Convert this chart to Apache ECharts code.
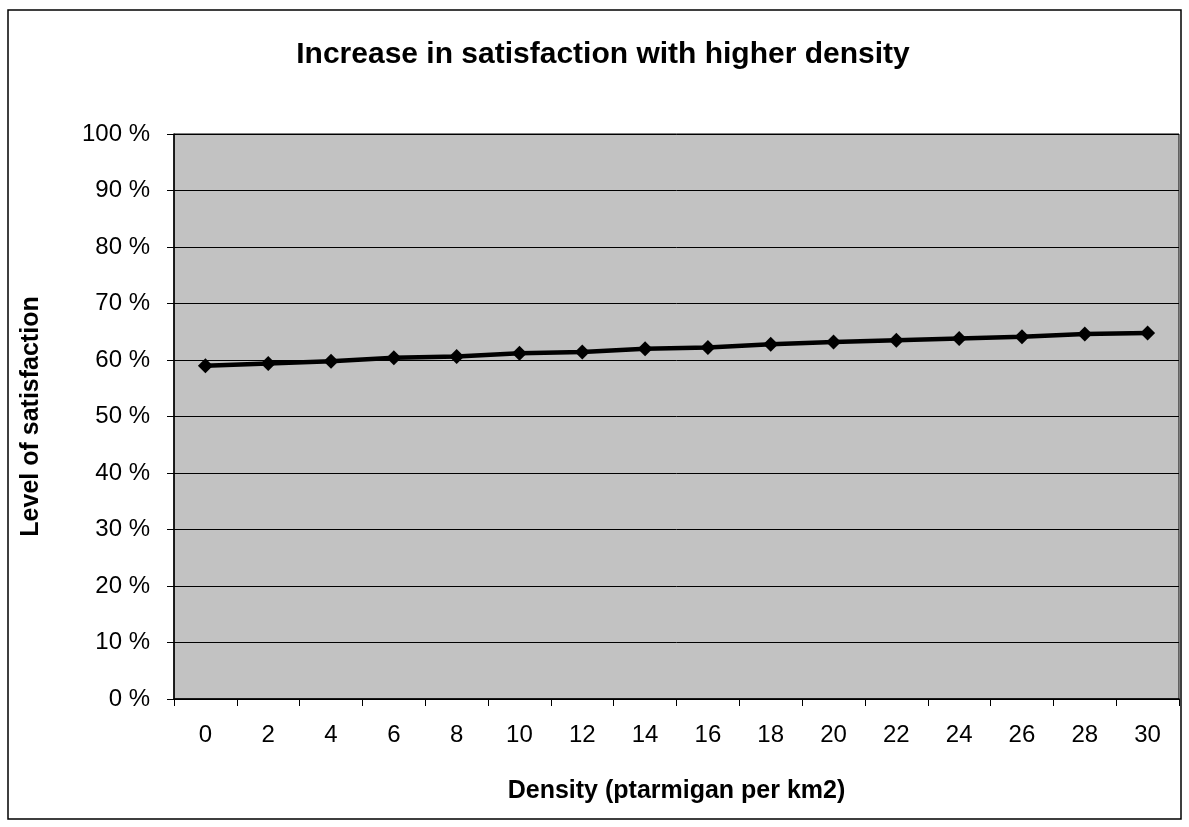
<!DOCTYPE html>
<html>
<head>
<meta charset="utf-8">
<script src="https://cdn.jsdelivr.net/npm/echarts@6/dist/echarts.min.js"></script>
<style>
html,body{margin:0;padding:0;background:#fff;}
#c{width:1189px;height:827px;}
</style>
</head>
<body>
<div id="c"></div>
<script>
const categories = ['0','2','4','6','8','10','12','14','16','18','20','22','24','26','28','30'];
const satisfaction = [59.0, 59.4, 59.8, 60.4, 60.6, 61.2, 61.4, 62.0, 62.2, 62.8, 63.2, 63.5, 63.8, 64.1, 64.6, 64.8];
const titleText = 'Increase in satisfaction with higher density';
const xTitle = 'Density (ptarmigan per km2)';
const yTitle = 'Level of satisfaction';

const FONT = '"Liberation Sans", Arial, sans-serif';
const chart = echarts.init(document.getElementById('c'));
chart.setOption({
  animation: false,
  backgroundColor: '#ffffff',
  title: {
    text: titleText,
    left: 598, top: 35, textAlign: 'center',
    textStyle: {fontFamily: FONT, fontSize: 30, fontWeight: 'bold', color: '#000'}
  },
  graphic: [{
    type: 'rect', silent: true, z: -1,
    shape: {x: 8, y: 10, width: 1173, height: 809},
    style: {fill: 'none', stroke: '#000', lineWidth: 1.5}
  }],
  grid: {
    left: 174, right: 10, top: 134, bottom: 128,
    show: true, backgroundColor: '#c2c2c2', borderColor: '#000', borderWidth: 1
  },
  xAxis: {
    type: 'category', data: categories, boundaryGap: true,
    name: xTitle, nameLocation: 'middle', nameGap: 80,
    nameTextStyle: {fontFamily: FONT, fontSize: 25, fontWeight: 'bold', color: '#000'},
    axisLine: {lineStyle: {color: '#000', width: 1.5}},
    axisTick: {show: true, length: 7, lineStyle: {color: '#000'}},
    axisLabel: {fontFamily: FONT, fontSize: 24, color: '#000', margin: 24}
  },
  yAxis: {
    type: 'value', min: 0, max: 100, interval: 10,
    name: yTitle, nameLocation: 'middle', nameGap: 130, nameRotate: 90,
    nameTextStyle: {fontFamily: FONT, fontSize: 25, fontWeight: 'bold', color: '#000'},
    axisLine: {show: true, lineStyle: {color: '#000', width: 1.5}},
    axisTick: {show: true, length: 7, lineStyle: {color: '#000'}},
    axisLabel: {fontFamily: FONT, fontSize: 24, color: '#000', margin: 24, formatter: '{value} %'},
    splitLine: {show: true, lineStyle: {color: '#000', width: 1}}
  },
  series: [{
    type: 'line', data: satisfaction,
    symbol: 'diamond', symbolSize: 15,
    lineStyle: {color: '#000', width: 4.5},
    itemStyle: {color: '#000'}
  }]
});
</script>
</body>
</html>
